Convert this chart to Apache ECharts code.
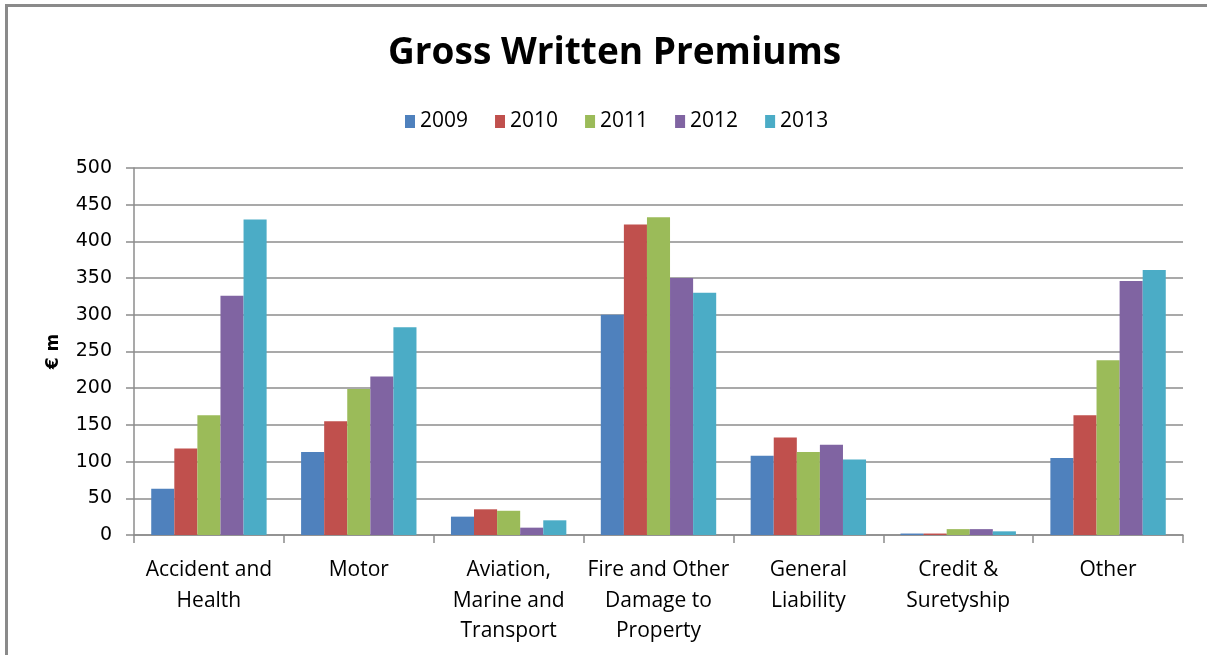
<!DOCTYPE html>
<html>
<head>
<meta charset="utf-8">
<script src="https://cdn.jsdelivr.net/npm/echarts@6/dist/echarts.min.js"></script>
<style>
  html, body { margin: 0; padding: 0; background: #fff; }
  #frame {
    position: absolute; left: 5px; top: 4px; width: 1202px; height: 651px;
    border-top: 3px solid #8a8a8a; border-left: 3px solid #8a8a8a;
    box-sizing: border-box;
  }
  #chart { position: absolute; left: 0; top: 0; width: 1207px; height: 655px; }
</style>
</head>
<body>
<div id="frame"></div>
<div id="chart"></div>
<script>
// Premium lines and yearly gross written premiums (€ m)
const categories = [
  'Accident and\nHealth',
  'Motor',
  'Aviation,\nMarine and\nTransport',
  'Fire and Other\nDamage to\nProperty',
  'General\nLiability',
  'Credit &\nSuretyship',
  'Other'
];
const years = ['2009', '2010', '2011', '2012', '2013'];
const v2009 = [63, 113, 25, 300, 108, 2, 105];
const v2010 = [118, 155, 35, 423, 133, 2, 163];
const v2011 = [163, 199, 33, 433, 113, 8, 238];
const v2012 = [326, 216, 10, 350, 123, 8, 346];
const v2013 = [430, 283, 20, 330, 103, 5, 361];
const yTicks = [0, 50, 100, 150, 200, 250, 300, 350, 400, 450, 500];

const colors = ['#4F81BD', '#C0504D', '#9BBB59', '#8064A2', '#4BACC6'];
const seriesValues = [v2009, v2010, v2011, v2012, v2013];

const chart = echarts.init(document.getElementById('chart'));
chart.setOption({
  animation: false,
  color: colors,
  title: {
    text: 'Gross Written Premiums',
    left: 383,
    top: 30,
    textStyle: { fontFamily: 'Open Sans', fontWeight: 'bold', fontSize: 37, color: '#000' }
  },
  legend: {
    data: years,
    top: 106,
    left: 400,
    itemWidth: 10,
    itemHeight: 13,
    itemGap: 27,
    icon: 'rect',
    textStyle: { fontFamily: 'Open Sans', fontSize: 21, color: '#000' }
  },
  grid: { left: 134, right: 24, top: 168, bottom: 120, containLabel: false },
  xAxis: {
    type: 'category',
    data: categories,
    axisLine: { lineStyle: { color: '#8c8c8c', width: 1.5 } },
    axisTick: { show: true, length: 8, lineStyle: { color: '#8c8c8c', width: 1.5 } },
    axisLabel: {
      interval: 0,
      margin: 20,
      lineHeight: 30.5,
      fontFamily: 'Open Sans',
      fontSize: 21,
      color: '#000'
    }
  },
  yAxis: {
    type: 'value',
    min: yTicks[0],
    max: yTicks[yTicks.length - 1],
    interval: 50,
    name: '€ m',
    nameLocation: 'middle',
    nameGap: 72,
    nameRotate: 90,
    nameTextStyle: { fontFamily: 'DejaVu Sans', fontWeight: 'bold', fontSize: 17, color: '#000' },
    axisLine: { show: true, lineStyle: { color: '#8c8c8c', width: 1.5 } },
    axisTick: { show: true, length: 8, lineStyle: { color: '#8c8c8c', width: 1.5 } },
    axisLabel: { margin: 22, fontFamily: 'DejaVu Sans', fontSize: 19, color: '#000' },
    splitLine: { lineStyle: { color: '#8c8c8c', width: 1.5 } }
  },
  series: years.map((y, i) => ({
    name: y,
    type: 'bar',
    data: seriesValues[i],
    barGap: '0%',
    barCategoryGap: '23%',
    itemStyle: { color: colors[i] }
  }))
});
</script>
</body>
</html>
